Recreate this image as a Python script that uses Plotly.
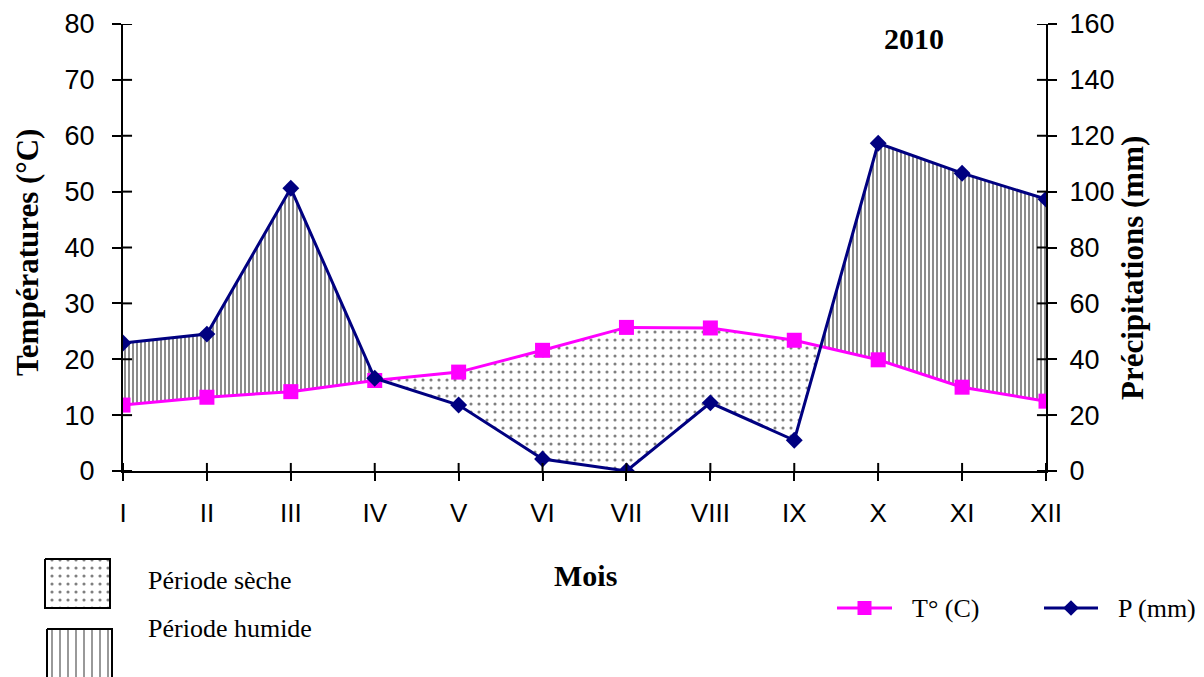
import plotly.graph_objects as go

# ---- data ----
months = ["I", "II", "III", "IV", "V", "VI", "VII", "VIII", "IX", "X", "XI", "XII"]
temperature = [11.8, 13.2, 14.2, 16.2, 17.7, 21.6, 25.7, 25.6, 23.4, 19.9, 15.0, 12.5]
precipitation = [45.8, 49.0, 101.2, 33.2, 23.6, 4.3, 0.0, 24.4, 11.0, 117.3, 106.6, 97.3]
temp_ticks = [0, 10, 20, 30, 40, 50, 60, 70, 80]
precip_ticks = [0, 20, 40, 60, 80, 100, 120, 140, 160]
year_label = "2010"

W, H = 1204, 677
PL, PR, PT, PB = 123, 1046, 24, 471  # plot area in pixels
LEG_TOP = 540                          # top of the legend strip (pixels)
MAG = "#FF00FF"
NAVY = "#000080"
SERIF = "Liberation Serif, Times New Roman, serif"
SANS = "Liberation Sans, Arial, sans-serif"

x_idx = list(range(len(months)))

# Gaussen: P = 2T -> precipitation expressed in temperature units
p_half = [p / 2 for p in precipitation]

xs, ts, ps = [], [], []
for i in range(len(months)):
    xs.append(i); ts.append(temperature[i]); ps.append(p_half[i])
    if i < len(months) - 1:
        d0 = p_half[i] - temperature[i]
        d1 = p_half[i + 1] - temperature[i + 1]
        if d0 * d1 < 0:
            f = d0 / (d0 - d1)
            tc = temperature[i] + f * (temperature[i + 1] - temperature[i])
            xs.append(i + f); ts.append(tc); ps.append(tc)

wet_upper = [max(p, t) for p, t in zip(ps, ts)]
dry_lower = [min(p, t) for p, t in zip(ps, ts)]

fig = go.Figure()
clear = "rgba(255,255,255,0)"

# wet period (vertical hatch)
fig.add_trace(go.Scatter(x=xs, y=ts, mode="lines", line=dict(width=0),
                         showlegend=False, hoverinfo="skip"))
fig.add_trace(go.Scatter(x=xs, y=wet_upper, mode="lines", line=dict(width=0),
                         fill="tonexty", fillcolor=clear,
                         fillpattern=dict(shape="|", fgcolor="black",
                                          size=4, solidity=0.45),
                         showlegend=False, hoverinfo="skip"))
# dry period (dots)
fig.add_trace(go.Scatter(x=xs, y=dry_lower, mode="lines", line=dict(width=0),
                         showlegend=False, hoverinfo="skip"))
fig.add_trace(go.Scatter(x=xs, y=ts, mode="lines", line=dict(width=0),
                         fill="tonexty", fillcolor=clear,
                         fillpattern=dict(shape=".", fgcolor="black",
                                          size=8, solidity=0.12),
                         showlegend=False, hoverinfo="skip"))

# main lines
fig.add_trace(go.Scatter(x=x_idx, y=temperature, mode="lines+markers", name="T° (C)",
                         line=dict(color=MAG, width=3),
                         marker=dict(symbol="square", size=15, color=MAG),
                         showlegend=False))
fig.add_trace(go.Scatter(x=x_idx, y=precipitation, mode="lines+markers", name="P (mm)",
                         yaxis="y2",
                         line=dict(color=NAVY, width=3),
                         marker=dict(symbol="diamond", size=13, color=NAVY),
                         showlegend=False))

# ---- custom legend drawn on a pixel-coordinate auxiliary subplot (bottom strip) ----
def px_trace(x, y, **kw):
    return go.Scatter(x=x, y=y, xaxis="x2", yaxis="y3", showlegend=False,
                      hoverinfo="skip", **kw)

dry_box = dict(x0=45, x1=110, y0=559, y1=608)
wet_box = dict(x0=47, x1=112, y0=629, y1=700)
for box, shape, size, sol in [(dry_box, ".", 8, 0.12), (wet_box, "|", 8, 0.2)]:
    bx = [box["x0"], box["x1"], box["x1"], box["x0"], box["x0"]]
    by = [box["y0"], box["y0"], box["y1"], box["y1"], box["y0"]]
    fig.add_trace(px_trace(bx, by, mode="lines", fill="toself", fillcolor="white",
                           line=dict(color="black", width=2),
                           fillpattern=dict(shape=shape, fgcolor="black",
                                            size=size, solidity=sol)))

legend_lines = [(837, 892, 608, MAG, "square", 14), (1044, 1098, 608, NAVY, "diamond", 12)]
for x0, x1, yy, col, sym, ms in legend_lines:
    fig.add_trace(px_trace([x0, x1], [yy, yy], mode="lines", line=dict(color=col, width=3)))
    fig.add_trace(px_trace([(x0 + x1) / 2], [yy], mode="markers",
                           marker=dict(symbol=sym, size=ms, color=col)))

# ---- layout ----
xdom = [PL / W, PR / W]
ydom = [(H - PB) / H, (H - PT) / H]
ax = dict(showgrid=False, zeroline=False, linecolor="black", linewidth=2,
          tickcolor="black", tickwidth=2, showline=True)

fig.update_layout(
    width=W, height=H,
    margin=dict(l=0, r=0, t=0, b=0, autoexpand=False),
    paper_bgcolor="white", plot_bgcolor="white",
    showlegend=False,
    xaxis=dict(domain=xdom, range=[0, 11], tickvals=x_idx, ticktext=months,
               ticks="outside", ticklen=8, anchor="y", ticklabelstandoff=10,
               tickfont=dict(family=SANS, size=26, color="black"), **ax),
    yaxis=dict(domain=ydom, range=[0, 80], tickvals=temp_ticks, ticks="outside", ticklen=9,
               anchor="x", ticklabelstandoff=12,
               tickfont=dict(family=SANS, size=27, color="black"), **ax),
    yaxis2=dict(overlaying="y", side="right", range=[0, 160], tickvals=precip_ticks,
                ticks="outside", ticklen=9, anchor="x", ticklabelstandoff=7,
                tickfont=dict(family=SANS, size=27, color="black"), **ax),
    xaxis2=dict(domain=[0, 1], range=[0, W], visible=False, anchor="y3", fixedrange=True),
    yaxis3=dict(domain=[0, (H - LEG_TOP) / H], range=[H, LEG_TOP], visible=False,
                anchor="x2", fixedrange=True),
)

# inside half of the crossing tick marks, drawn as shapes tied to the axes
for v in temp_ticks:
    fig.add_shape(type="line", xref="x domain", yref="y", x0=0, x1=0.0098, y0=v, y1=v,
                  line=dict(color="black", width=2))
for v in precip_ticks:
    fig.add_shape(type="line", xref="x domain", yref="y2", x0=1 - 0.0098, x1=1, y0=v, y1=v,
                  line=dict(color="black", width=2))
for v in x_idx:
    fig.add_shape(type="line", xref="x", yref="y domain", x0=v, x1=v, y0=0, y1=0.018,
                  line=dict(color="black", width=2))

def px_ann(text, x, y, size, bold=False, angle=0, xanchor="center"):
    fig.add_annotation(text=f"<b>{text}</b>" if bold else text, x=x / W, y=1 - y / H,
                       xref="paper", yref="paper", showarrow=False, textangle=angle,
                       xanchor=xanchor, yanchor="middle",
                       font=dict(family=SERIF, size=size, color="black"))

px_ann("Températures (°C)", 28, 253, 31, bold=True, angle=-90)
px_ann("Précipitations (mm)", 1133, 268, 31, bold=True, angle=-90)
px_ann("Mois", 585, 575, 30, bold=True)
px_ann(year_label, 914, 38, 30, bold=True)
px_ann("Période sèche", 146, 580, 26, xanchor="left")
px_ann("Période humide", 146, 628, 26, xanchor="left")
px_ann("T° (C)", 910, 608, 26, xanchor="left")
px_ann("P (mm)", 1116, 608, 26, xanchor="left")

fig.write_html("out.html", config={"displayModeBar": False},
               post_script="document.body.style.margin='0';")
